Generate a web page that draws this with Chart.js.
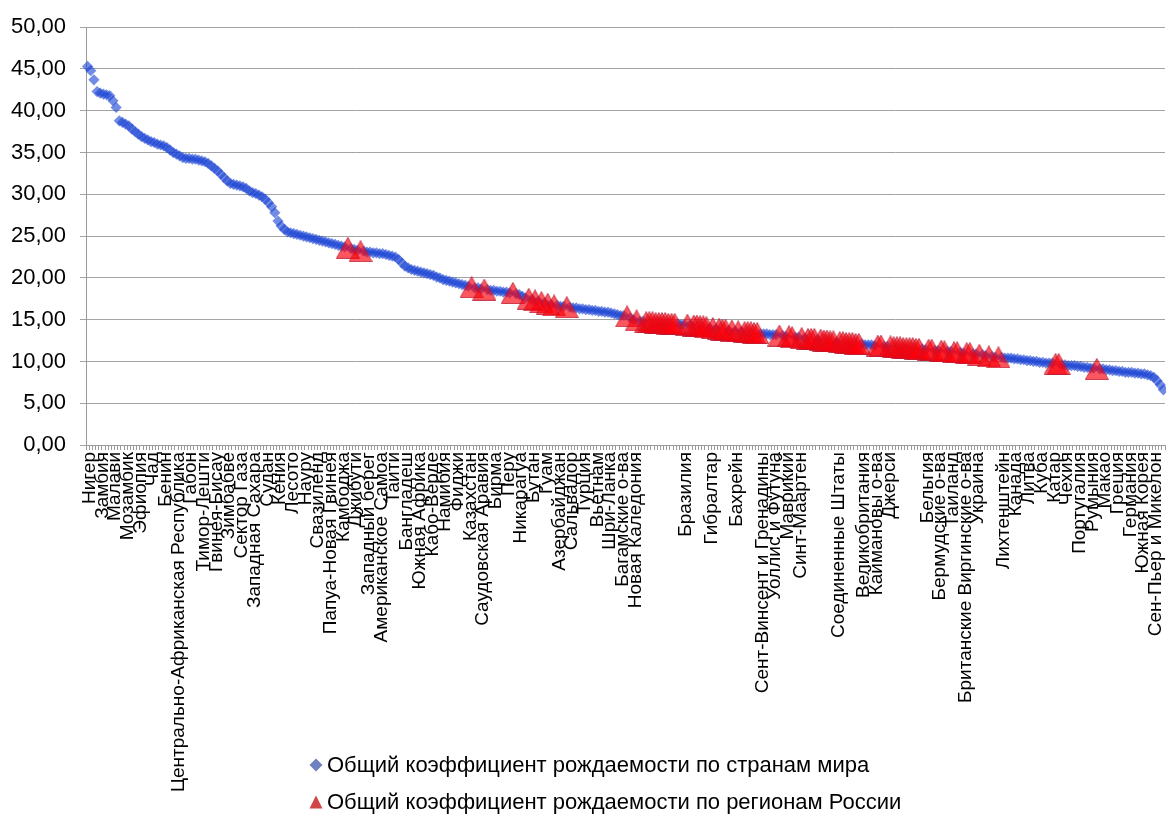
<!DOCTYPE html>
<html lang="ru">
<head>
<meta charset="utf-8">
<title>Общий коэффициент рождаемости</title>
<script src="https://cdn.jsdelivr.net/npm/chart.js@4.4.1/dist/chart.umd.min.js"></script>
<style>
    html, body { margin: 0; padding: 0; background: #fff; }
    #wrap { position: relative; width: 1166px; height: 814px; overflow: hidden; }
    #chart { display: block; }
    .legend-row {
        position: absolute; left: 309px; height: 26px;
        display: flex; align-items: center;
        font: 22px "Liberation Sans", Arial, sans-serif; color: #000; white-space: nowrap;
    }
    .legend-row svg { margin-right: 4px; }
</style>
</head>
<body>
<div id="wrap">
    <canvas id="chart" width="1166" height="814"></canvas>
    <div class="legend-row" style="top: 752px;">
        <svg width="14" height="14" viewBox="0 0 14 14"><polygon points="7,0.5 13.5,7 7,13.5 0.5,7" fill="#6d80bf"/></svg>
        <span>Общий коэффициент рождаемости по странам мира</span>
    </div>
    <div class="legend-row" style="top: 789px;">
        <svg width="14" height="14" viewBox="0 0 14 14"><polygon points="7,0.5 13.5,13.5 0.5,13.5" fill="#d04545"/></svg>
        <span>Общий коэффициент рождаемости по регионам России</span>
    </div>
</div>
<script>
    // ===================================================================
    // ДАННЫЕ
    // ===================================================================
    const _ = null;

    // подпись у каждой 4-й категории ('' там, где стоит регион России)
    const tickLabels = [
        'Нигер', 'Замбия', 'Малави', 'Мозамбик', 'Эфиопия', 'Чад', 'Бенин',
        'Центрально-Африканская Республика', 'Габон', 'Тимор-Лешти', 'Гвинея-Бисау',
        'Зимбабве', 'Сектор Газа', 'Западная Сахара', 'Судан', 'Кения', 'Лесото', 'Науру',
        'Свазиленд', 'Папуа-Новая Гвинея', 'Камбоджа', 'Джибути', 'Западный берег',
        'Американское Самоа', 'Таити', 'Бангладеш', 'Южная Африка', 'Кабо-Верде', 'Намибия',
        'Фиджи', 'Казахстан', 'Саудовская Аравия', 'Бирма', 'Перу', 'Никарагуа', 'Бутан',
        'Гуам', 'Азербайджан', 'Сальвадор', 'Турция', 'Вьетнам', 'Шри-Ланка',
        'Багамские о-ва', 'Новая Каледония', '', '', '', 'Бразилия', '', 'Гибралтар', '',
        'Бахрейн', '', 'Сент-Винсент и Гренадины', 'Уоллис и Футуна', 'Маврикий',
        'Синт-Маартен', '', '', 'Соединенные Штаты', '', 'Великобритания', 'Каймановы о-ва',
        'Джерси', '', '', 'Бельгия', 'Бермудские о-ва', 'Таиланд',
        'Британские Виргинские о-ва', 'Украина', '', 'Лихтенштейн', 'Канада', 'Литва', 'Куба',
        'Катар', 'Чехия', 'Португалия', 'Румыния', 'Макао', 'Греция', 'Германия',
        'Южная Корея', 'Сен-Пьер и Микелон'
    ];

    // страны мира (по категориям, null = на этом месте регион России)
    const worldRate = [
        45.3, 44.8, 43.7, 42.3, 42.1, 42.0, 41.9, 41.8, 41.2, 40.4,   // 0
        38.8, 38.6, 38.4, 38.2, 37.8, 37.5, 37.2, 36.9, 36.7, 36.5,   // 10
        36.3, 36.2, 36.0, 35.9, 35.8, 35.6, 35.3, 35.0, 34.8, 34.6,   // 20
        34.4, 34.3, 34.3, 34.2, 34.2, 34.1, 34.0, 33.9, 33.7, 33.4,   // 30
        33.1, 32.8, 32.4, 32.0, 31.6, 31.3, 31.2, 31.1, 31.0, 30.9,   // 40
        30.7, 30.4, 30.2, 30.1, 29.9, 29.7, 29.4, 29.0, 28.5, 27.8,   // 50
        26.8, 26.2, 25.8, 25.5, 25.4, 25.3, 25.2, 25.1, 25.0, 24.9,   // 60
        24.8, 24.7, 24.6, 24.5, 24.4, 24.3, 24.2, 24.1, 24.0, 23.9,   // 70
        23.8, 23.7, _, 23.5, 23.4, 23.3, _, 23.2, 23.1, 23.1,         // 80
        23.0, 23.0, 22.9, 22.9, 22.8, 22.7, 22.6, 22.5, 22.2, 21.8,   // 90
        21.4, 21.2, 21.0, 20.9, 20.8, 20.7, 20.6, 20.5, 20.4, 20.3,   // 100
        20.1, 20.0, 19.8, 19.7, 19.6, 19.5, 19.4, 19.3, 19.2, 19.1,   // 110
        19.0, _, 18.8, 18.8, 18.7, _, 18.6, 18.5, 18.5, 18.4,         // 120
        18.4, 18.3, 18.3, 18.2, _, 18.1, 18.0, 17.8, 17.6, _,         // 130
        17.4, _, 17.2, _, 17.0, _, 16.8, _, 16.7, 16.6,               // 140
        16.6, _, 16.5, 16.4, 16.4, 16.3, 16.3, 16.2, 16.2, 16.1,      // 150
        16.1, 16.0, 16.0, 15.9, 15.9, 15.8, 15.7, 15.6, 15.5, 15.5,   // 160
        _, 15.2, 15.0, _, 14.8, 14.8, _, _, _, _,                     // 170
        _, _, _, _, _, _, 14.5, 14.4, 14.4, _,                        // 180
        14.4, _, _, _, _, _, 14.0, _, 13.9, _,                        // 190
        _, _, 13.7, _, 13.6, _, 13.6, _, _, _,                        // 200
        _, _, 13.3, 13.3, 13.3, 13.2, 13.2, 13.2, _, 13.1,            // 210
        13.0, _, _, 12.9, 12.9, _, 12.8, _, _, _,                     // 220
        12.6, _, _, _, _, _, 12.3, _, _, _,                           // 230
        _, _, _, _, 12.1, 12.0, 12.0, 12.0, 11.9, _,                  // 240
        _, 11.8, 11.8, _, _, _, _, _, _, _,                           // 250
        _, _, _, 11.5, 11.4, _, _, 11.3, 11.3, _,                     // 260
        _, 11.2, 11.2, _, _, 11.1, 11.0, _, _, 10.9,                  // 270
        10.9, _, 10.8, 10.7, _, 10.6, 10.5, _, 10.5, 10.4,            // 280
        10.4, 10.4, 10.3, 10.3, 10.2, 10.2, 10.1, 10.1, 10.0, 10.0,   // 290
        9.9, 9.9, 9.8, 9.8, 9.8, _, _, 9.6, 9.6, 9.5,                 // 300
        9.5, 9.5, 9.4, 9.4, 9.3, 9.3, 9.2, 9.2, _, 9.1,               // 310
        9.1, 9.0, 9.0, 8.9, 8.9, 8.8, 8.8, 8.7, 8.7, 8.7,             // 320
        8.6, 8.6, 8.5, 8.5, 8.4, 8.3, 8.1, 7.7, 7.2, 6.6              // 330
    ];

    // регионы России (null = на этом месте страна)
    const russiaRate = [
        _, _, _, _, _, _, _, _, _, _,                                 // 0
        _, _, _, _, _, _, _, _, _, _,                                 // 10
        _, _, _, _, _, _, _, _, _, _,                                 // 20
        _, _, _, _, _, _, _, _, _, _,                                 // 30
        _, _, _, _, _, _, _, _, _, _,                                 // 40
        _, _, _, _, _, _, _, _, _, _,                                 // 50
        _, _, _, _, _, _, _, _, _, _,                                 // 60
        _, _, _, _, _, _, _, _, _, _,                                 // 70
        _, _, 23.6, _, _, _, 23.2, _, _, _,                           // 80
        _, _, _, _, _, _, _, _, _, _,                                 // 90
        _, _, _, _, _, _, _, _, _, _,                                 // 100
        _, _, _, _, _, _, _, _, _, _,                                 // 110
        _, 18.9, _, _, _, 18.6, _, _, _, _,                           // 120
        _, _, _, _, 18.2, _, _, _, _, 17.5,                           // 130
        _, 17.3, _, 17.1, _, 16.9, _, 16.7, _, _,                     // 140
        _, 16.5, _, _, _, _, _, _, _, _,                              // 150
        _, _, _, _, _, _, _, _, _, _,                                 // 160
        15.4, _, _, 14.9, _, _, 14.7, 14.7, 14.7, 14.6,               // 170
        14.6, 14.6, 14.6, 14.5, 14.5, 14.5, _, _, _, 14.4,            // 180
        _, 14.3, 14.3, 14.2, 14.2, 14.1, _, 14.0, _, 13.9,            // 190
        13.8, 13.8, _, 13.7, _, 13.6, _, 13.5, 13.5, 13.5,            // 200
        13.4, 13.4, _, _, _, _, _, _, 13.1, _,                        // 210
        _, 13.0, 12.9, _, _, 12.8, _, 12.7, 12.7, 12.7,               // 220
        _, 12.6, 12.5, 12.5, 12.4, 12.4, _, 12.3, 12.3, 12.2,         // 230
        12.2, 12.2, 12.1, 12.1, _, _, _, _, _, 11.9,                  // 240
        11.9, _, _, 11.8, 11.7, 11.7, 11.7, 11.6, 11.6, 11.6,         // 250
        11.6, 11.5, 11.5, _, _, 11.4, 11.4, _, _, 11.3,               // 260
        11.2, _, _, 11.1, 11.1, _, _, 11.0, 11.0, _,                  // 270
        _, 10.8, _, _, 10.6, _, _, 10.5, _, _,                        // 280
        _, _, _, _, _, _, _, _, _, _,                                 // 290
        _, _, _, _, _, 9.7, 9.7, _, _, _,                             // 300
        _, _, _, _, _, _, _, _, 9.1, _,                               // 310
        _, _, _, _, _, _, _, _, _, _,                                 // 320
        _, _, _, _, _, _, _, _, _, _                                  // 330
    ];

    const labelWorld = 'Общий коэффициент рождаемости по странам мира';
    const labelRussia = 'Общий коэффициент рождаемости по регионам России';

    // категории: подпись только у каждой 4-й
    const categories = worldRate.map((v, i) => (i % 4 === 0 ? tickLabels[i / 4] : ''));

    // ===================================================================
    // МАРКЕР-ТРЕУГОЛЬНИК (центр рамки = точка данных, как в Excel)
    // ===================================================================
    function criarTriangulo() {
        const c = document.createElement('canvas');
        c.width = 24;
        c.height = 22;
        const g = c.getContext('2d');
        g.beginPath();
        g.moveTo(0.5, 21.5);
        g.lineTo(12, 0.5);
        g.lineTo(23.5, 21.5);
        g.closePath();
        g.fillStyle = 'rgba(250, 0, 10, 0.66)';
        g.fill();
        g.strokeStyle = 'rgba(185, 25, 50, 0.75)';
        g.lineWidth = 1;
        g.stroke();
        return c;
    }

    const fonte = '"Liberation Sans", Arial, sans-serif';

    new Chart(document.getElementById('chart'), {
        type: 'line',
        data: {
            labels: categories,
            datasets: [
                {
                    label: labelWorld,
                    data: worldRate,
                    showLine: false,
                    pointStyle: 'rectRot',
                    pointRadius: 5.6,
                    pointBackgroundColor: 'rgba(28, 68, 212, 0.62)',
                    pointBorderWidth: 0,
                    clip: false,
                    order: 1
                },
                {
                    label: labelRussia,
                    data: russiaRate,
                    showLine: false,
                    pointStyle: criarTriangulo(),
                    pointRadius: 12,
                    clip: false,
                    order: 0
                }
            ]
        },
        options: {
            responsive: false,
            animation: false,
            devicePixelRatio: 1,
            events: [],
            // без автоматических полей под маркеры: область графика до самого края
            layout: { autoPadding: false, padding: { top: 22, right: 1, bottom: 0, left: 0 } },
            plugins: {
                legend: { display: false },
                tooltip: { enabled: false }
            },
            scales: {
                x: {
                    type: 'category',
                    offset: true,
                    grid: { offset: true, drawOnChartArea: false, drawTicks: true, tickLength: 5, color: '#9a9a9a' },
                    border: { color: '#9a9a9a' },
                    ticks: {
                        autoSkip: false,
                        minRotation: 90,
                        maxRotation: 90,
                        padding: 2,
                        labelOffset: 2,
                        color: '#000',
                        font: { family: fonte, size: 19 }
                    },
                    afterFit: s => {
                        s.height = 369;
                        s.paddingLeft = 0;
                        s.paddingRight = 0;
                    }
                },
                y: {
                    min: 0,
                    max: 50,
                    grid: { color: '#a3a3a3', tickLength: 6 },
                    border: { color: '#9a9a9a' },
                    ticks: {
                        stepSize: 5,
                        padding: 14,
                        color: '#000',
                        font: { family: fonte, size: 22 },
                        callback: v => v.toFixed(2).replace('.', ',')
                    },
                    afterFit: s => { s.width = 86; }
                }
            }
        }
    });
</script>
</body>
</html>
